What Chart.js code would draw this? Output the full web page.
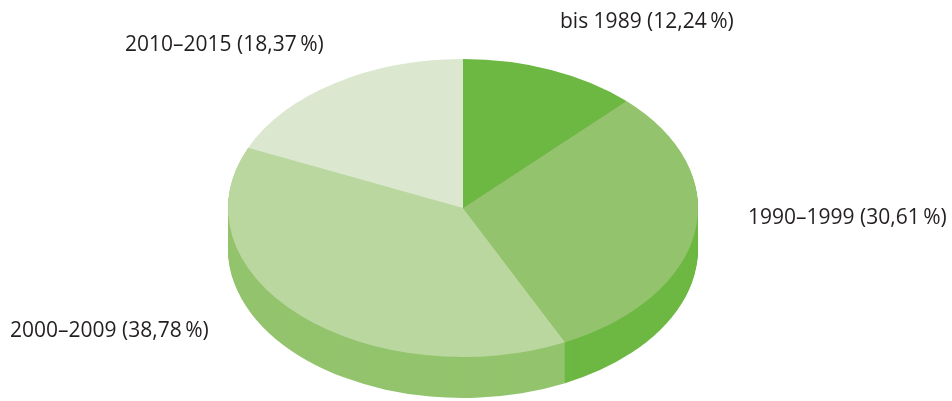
<!DOCTYPE html>
<html><head><meta charset="utf-8">
<script src="https://cdn.jsdelivr.net/npm/chart.js@4"></script>
<style>html,body{margin:0;padding:0;background:#fff}#wrap{width:952px;height:401px;position:relative}</style>
</head><body><div id="wrap"><canvas id="c" width="952" height="401"></canvas></div>
<script>
const categories = ['bis 1989', '1990–1999', '2000–2009', '2010–2015'];
const shares = [12.24, 30.61, 38.78, 18.37];
const topColors = ['#6db843', '#93c46d', '#b9d79f', '#dbe8cf'];
const sideColors = ['#5a9e36', '#6db843', '#93c46d', '#b9d79f'];
const labelPos = [[560, 22, 'left'], [748, 218, 'left'], [10, 331, 'left'], [125, 45, 'left']];

const CX = 463, CY = 208, RX = 235, RY = 149, DEPTH = 41;

function fmt(v){ return v.toFixed(2).replace('.', ',') + '\u2009%'; }

const pie3d = {
  id: 'pie3d',
  beforeDatasetsDraw(chart) {
    const ctx = chart.ctx;
    const arcs = chart.getDatasetMeta(0).data;
    for (let d = DEPTH; d >= 1; d--) {
      arcs.forEach((a, i) => {
        const p = a.getProps(['x','y','startAngle','endAngle','outerRadius'], true);
        ctx.save();
        ctx.translate(CX, CY + d);
        ctx.scale(RX / p.outerRadius, RY / p.outerRadius);
        ctx.beginPath();
        ctx.moveTo(0, 0);
        ctx.arc(0, 0, p.outerRadius, p.startAngle, p.endAngle);
        ctx.closePath();
        ctx.fillStyle = sideColors[i];
        ctx.fill();
        ctx.restore();
      });
    }
    const p0 = arcs[0].getProps(['x','y','outerRadius'], true);
    ctx.save();
    ctx.translate(CX, CY);
    ctx.scale(RX / p0.outerRadius, RY / p0.outerRadius);
    ctx.translate(-p0.x, -p0.y);
  },
  afterDatasetsDraw(chart) {
    const ctx = chart.ctx;
    ctx.restore();
    ctx.save();
    ctx.fillStyle = '#231f20';
    ctx.font = '21px "Open Sans", sans-serif';
    ctx.textBaseline = 'middle';
    categories.forEach((c, i) => {
      ctx.textAlign = labelPos[i][2];
      ctx.fillText(c + ' (' + fmt(shares[i]) + ')', labelPos[i][0], labelPos[i][1]);
    });
    ctx.restore();
  }
};

new Chart(document.getElementById('c'), {
  type: 'pie',
  data: { labels: categories, datasets: [{ data: shares, backgroundColor: topColors, borderWidth: 0 }] },
  options: {
    responsive: false, animation: false,
    plugins: { legend: { display: false }, tooltip: { enabled: false } },
    events: []
  },
  plugins: [pie3d]
});
</script></body></html>
